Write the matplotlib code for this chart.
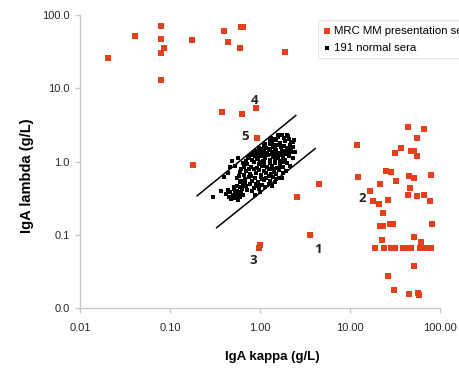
import matplotlib
matplotlib.use('Agg')
import matplotlib.pyplot as plt
from matplotlib.ticker import FixedLocator, FuncFormatter, NullLocator

# MRC MM presentation sera (kappa, lambda) g/L
mm_kappa = [0.0205, 0.041, 0.079, 0.079, 0.079, 0.086, 0.079, 0.175, 0.40, 0.44,
            0.38, 0.18, 0.61, 0.65, 0.60, 1.9, 0.63, 0.90, 0.93, 12,
            44, 66, 55, 37, 31.6, 48, 52, 55, 12.3, 25,
            28.5, 45, 52, 79, 4.5, 2.6, 3.6, 1.0, 0.98, 21.5,
            16.6, 18, 21, 26.5, 23.2, 32.5, 44, 46, 55, 66,
            77, 81, 21.5, 23, 28, 30, 22.7, 52, 62, 19,
            24, 28.5, 31.6, 39, 44, 48, 60, 66, 73, 79,
            52, 26.5, 31, 45, 57, 58]
mm_lambda = [25.8, 51.5, 70, 46.9, 30.1, 35, 12.9, 45.6, 60, 42.7,
             4.7, 0.91, 69, 69, 35, 31, 4.4, 5.3, 2.07, 1.7,
             3.0, 2.8, 2.1, 1.55, 1.29, 1.37, 1.41, 1.2, 0.62, 0.75,
             0.73, 0.64, 0.6, 0.66, 0.5, 0.33, 0.098, 0.073, 0.066, 0.5,
             0.39, 0.29, 0.26, 0.30, 0.2, 0.55, 0.35, 0.43, 0.34, 0.35,
             0.29, 0.14, 0.133, 0.13, 0.14, 0.14, 0.086, 0.094, 0.08, 0.066,
             0.066, 0.066, 0.066, 0.066, 0.066, 0.066, 0.066, 0.066, 0.066, 0.066,
             0.037, 0.027, 0.0177, 0.0155, 0.016, 0.015]

# 191 normal sera
normal = [
    (1.75, 2.30), (1.98, 2.27), (1.85, 2.10), (2.10, 2.05), (1.60, 2.15),
    (1.30, 1.98), (1.35, 1.85), (1.50, 1.98), (1.65, 1.80), (1.90, 1.90),
    (2.20, 1.85), (2.33, 1.84), (1.15, 1.72), (1.10, 1.65), (1.42, 2.05),
    (0.82, 1.25), (0.90, 1.38), (0.98, 1.52), (1.00, 1.50), (1.10, 1.68),
    (1.18, 1.55), (1.28, 1.72), (1.38, 1.60), (1.48, 1.52), (1.58, 1.70),
    (1.72, 1.58), (1.85, 1.65), (2.00, 1.55), (2.15, 1.70), (2.35, 1.60),
    (1.25, 1.50), (0.88, 1.32),
    (0.80, 1.22), (0.90, 1.28), (0.98, 1.40), (1.05, 1.32), (1.12, 1.45),
    (1.20, 1.30), (1.30, 1.42), (1.40, 1.35), (1.52, 1.45), (1.62, 1.30),
    (1.75, 1.40), (1.88, 1.28), (2.05, 1.42), (2.25, 1.35), (2.45, 1.34),
    (1.45, 1.25), (1.15, 1.25),
    (0.75, 1.15), (0.82, 1.05), (0.88, 1.20), (0.95, 1.08), (1.02, 1.18),
    (1.08, 1.02), (1.15, 1.12), (1.22, 1.22), (1.30, 1.05), (1.38, 1.15),
    (1.48, 1.08), (1.55, 1.20), (1.65, 1.02), (1.78, 1.12), (1.92, 1.05),
    (2.10, 1.18), (2.30, 1.10), (1.00, 1.00), (1.70, 1.22),
    (0.72, 0.92), (0.80, 0.85), (0.86, 0.97), (0.92, 0.82), (0.98, 0.93),
    (1.05, 0.86), (1.12, 0.98), (1.20, 0.84), (1.28, 0.95), (1.35, 0.88),
    (1.45, 0.96), (1.55, 0.82), (1.68, 0.92), (1.82, 0.85), (2.00, 0.95),
    (2.15, 0.88), (1.40, 0.80), (0.76, 0.80),
    (0.70, 0.75), (0.78, 0.68), (0.85, 0.78), (0.90, 0.70), (0.97, 0.76),
    (1.03, 0.66), (1.10, 0.74), (1.18, 0.70), (1.25, 0.78), (1.32, 0.67),
    (1.42, 0.73), (1.52, 0.68), (1.62, 0.76), (1.78, 0.70), (1.95, 0.74),
    (0.66, 0.66),
    (0.68, 0.58), (0.75, 0.62), (0.82, 0.55), (0.88, 0.60), (0.95, 0.53),
    (1.02, 0.62), (1.10, 0.56), (1.18, 0.60), (1.28, 0.54), (1.38, 0.62),
    (1.50, 0.57), (1.62, 0.60), (1.74, 0.60), (0.80, 0.64),
    (0.70, 0.47), (0.77, 0.50), (0.85, 0.44), (0.90, 0.49), (0.98, 0.42),
    (1.05, 0.48), (1.15, 0.45), (1.25, 0.50), (1.35, 0.46), (1.47, 0.52),
    (0.82, 0.40), (1.00, 0.38), (0.72, 0.41),
    (0.30, 0.33), (0.37, 0.40), (0.42, 0.36), (0.44, 0.41), (0.45, 0.33),
    (0.47, 0.38), (0.48, 0.31), (0.50, 0.35), (0.51, 0.42), (0.52, 0.32),
    (0.53, 0.37), (0.55, 0.34), (0.56, 0.40), (0.57, 0.30), (0.58, 0.36),
    (0.60, 0.33), (0.60, 0.45), (0.62, 0.38), (0.63, 0.42), (0.65, 0.35),
    (0.40, 0.62), (0.44, 0.70), (0.46, 0.83), (0.49, 1.03), (0.53, 0.88),
    (0.57, 1.10), (0.55, 0.60), (0.60, 0.72), (0.62, 0.55), (0.64, 0.95),
    (0.66, 0.65),
    (0.68, 0.52), (0.64, 0.48), (0.66, 0.85), (0.70, 1.02), (0.73, 1.10),
    (0.85, 1.30), (1.60, 2.30), (1.33, 2.10), (2.05, 2.25), (2.40, 1.95),
    (1.95, 1.40), (2.20, 1.55), (1.58, 1.10), (1.25, 0.63), (1.12, 0.88),
    (0.93, 1.12), (1.43, 1.68), (1.05, 0.57), (0.88, 0.35), (0.95, 0.47),
    (1.70, 0.85), (1.85, 1.00), (2.05, 1.25), (1.15, 1.60), (0.99, 1.25),
    (1.35, 1.28), (0.60, 0.52), (0.56, 0.47), (0.52, 0.45), (0.58, 0.63),
    (0.62, 0.78),
]
norm_kappa = [p[0] for p in normal]
norm_lambda = [p[1] for p in normal]

# reference band lines
upper_x = [0.2, 2.5]
upper_y = [0.34, 4.25]
lower_x = [0.33, 4.1]
lower_y = [0.125, 1.5]

# numbered annotations
ann_text = ['4', '5', '1', '2', '3']
ann_x = [0.86, 0.68, 4.4, 13.6, 0.84]
ann_y = [6.85, 2.2, 0.062, 0.31, 0.044]

ticks = [0.01, 0.1, 1, 10, 100]

red = '#e3401b'
grey = '#c8c8c8'

fig = plt.figure(figsize=(4.59, 3.68), dpi=100)
ax = fig.add_axes([80/459, 1-308/368, 360/459, 293/368])

ax.plot(lower_x, lower_y, color='black', lw=1.1, zorder=1)
ax.plot(upper_x, upper_y, color='black', lw=1.1, zorder=1)
ax.scatter(norm_kappa, norm_lambda, marker='s', s=10, color='black',
           linewidths=0, label='191 normal sera', zorder=2)
ax.scatter(mm_kappa, mm_lambda, marker='s', s=17, color=red,
           linewidths=0, label='MRC MM presentation series', zorder=3)

for t, x, y in zip(ann_text, ann_x, ann_y):
    ax.text(x, y, t, ha='center', va='center', fontsize=9.5,
            fontweight='bold', family='Open Sans', color='#222222')

ax.set_xscale('log')
ax.set_yscale('log')
ax.set_xlim(0.01, 100)
ax.set_ylim(0.01, 100)
ax.xaxis.set_major_locator(FixedLocator(ticks))
ax.yaxis.set_major_locator(FixedLocator(ticks))
ax.xaxis.set_minor_locator(NullLocator())
ax.yaxis.set_minor_locator(NullLocator())
ax.xaxis.set_major_formatter(FuncFormatter(lambda v, p: f'{v:.2f}'))
ax.yaxis.set_major_formatter(FuncFormatter(lambda v, p: f'{v:.1f}'))

for s in ['top', 'right']:
    ax.spines[s].set_visible(False)
for s in ['left', 'bottom']:
    ax.spines[s].set_color(grey)
    ax.spines[s].set_linewidth(1)
ax.tick_params(axis='both', colors=grey, length=3.5, width=1,
               labelcolor='#2a2a2a', labelsize=8)
ax.tick_params(axis='x', pad=7)
ax.tick_params(axis='y', pad=4)
for lab in ax.get_xticklabels() + ax.get_yticklabels():
    lab.set_family('Liberation Sans')

fig.text(272/459, 1-357/368, 'IgA kappa (g/L)', ha='center', va='center',
         fontsize=9.5, fontweight='bold', family='Liberation Sans')
fig.text(27/459, 1-176/368, 'IgA lambda (g/L)', ha='center', va='center',
         rotation=90, fontsize=10.5, fontweight='bold', family='Liberation Sans')

handles, labels = ax.get_legend_handles_labels()
leg = ax.legend(handles[::-1], labels[::-1], loc='upper left',
                bbox_to_anchor=(318/459, 1-20/368), bbox_transform=fig.transFigure,
                prop={'family': 'Liberation Sans', 'size': 8.2},
                frameon=True, fancybox=False, edgecolor='#dddddd',
                handlelength=0.5, handletextpad=0.4, borderpad=0.5,
                labelspacing=0.6, borderaxespad=0)
leg.get_frame().set_linewidth(0.8)

fig.savefig('out.png', dpi=100)
